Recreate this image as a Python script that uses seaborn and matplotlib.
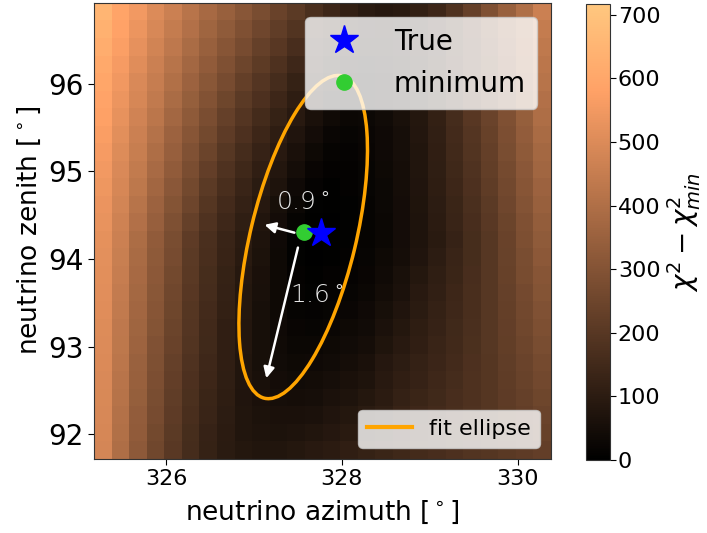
import numpy as np
import pandas as pd
import seaborn as sns
import matplotlib
matplotlib.use('Agg')
import matplotlib.pyplot as plt
from matplotlib.patches import Ellipse
from matplotlib.lines import Line2D

# grid of the scan (cell centres, degrees)
azimuth = [325.28, 325.48, 325.68, 325.88, 326.08, 326.28, 326.48, 326.68, 326.88,
           327.08, 327.28, 327.48, 327.68, 327.88, 328.08, 328.28, 328.48, 328.68,
           328.88, 329.08, 329.28, 329.48, 329.68, 329.88, 330.08, 330.28]
zenith = [96.82, 96.62, 96.42, 96.22, 96.02, 95.82, 95.62, 95.42, 95.22, 95.02,
          94.82, 94.62, 94.42, 94.22, 94.02, 93.82, 93.62, 93.42, 93.22, 93.02,
          92.82, 92.62, 92.42, 92.22, 92.02, 91.82]

# chi2 - chi2_min, one row per zenith (top row first)
delta_chi2 = [
    [650, 590, 550, 500, 460, 420, 380, 345, 310, 275, 240, 210, 170, 140, 115, 97, 87, 95, 115, 140, 180, 230, 290, 345, 400, 460],
    [635, 580, 536, 488, 446, 405, 364, 327, 290, 254, 219, 186, 149, 121, 97, 81, 76, 86, 107, 134, 175, 225, 281, 334, 388, 447],
    [620, 569, 521, 475, 432, 388, 347, 308, 270, 232, 199, 163, 129, 102, 79, 66, 66, 79, 100, 130, 171, 221, 274, 325, 379, 436],
    [605, 559, 507, 462, 417, 371, 329, 290, 249, 211, 178, 141, 110, 83, 62, 52, 57, 72, 93, 125, 167, 217, 266, 315, 369, 425],
    [595, 547, 495, 449, 402, 354, 312, 271, 229, 192, 158, 122, 93, 66, 48, 42, 50, 66, 88, 122, 164, 212, 258, 307, 359, 415],
    [586, 535, 485, 437, 387, 339, 296, 252, 210, 174, 139, 106, 77, 52, 36, 35, 46, 62, 86, 119, 161, 206, 251, 299, 351, 405],
    [577, 524, 473, 424, 371, 323, 279, 232, 192, 156, 121, 90, 60, 37, 26, 29, 41, 57, 82, 116, 157, 200, 243, 290, 341, 395],
    [567, 513, 462, 410, 355, 307, 261, 214, 174, 139, 105, 75, 46, 25, 18, 24, 36, 53, 79, 113, 153, 193, 235, 282, 332, 385],
    [558, 504, 451, 396, 342, 293, 244, 198, 159, 124, 92, 61, 33, 16, 14, 21, 34, 51, 78, 111, 149, 187, 229, 275, 324, 375],
    [549, 495, 441, 382, 328, 278, 226, 182, 144, 110, 79, 48, 22, 9, 11, 19, 31, 50, 76, 108, 144, 181, 223, 267, 315, 365],
    [541, 486, 430, 368, 314, 263, 210, 167, 130, 98, 68, 35, 12, 4, 9, 17, 29, 48, 74, 105, 139, 175, 216, 260, 307, 355],
    [534, 477, 417, 355, 301, 247, 196, 154, 118, 87, 56, 26, 7, 3, 8, 16, 29, 47, 72, 102, 134, 170, 210, 253, 299, 345],
    [527, 468, 404, 343, 288, 231, 182, 142, 108, 78, 45, 16, 3, 2, 8, 15, 28, 46, 70, 99, 130, 165, 204, 246, 291, 335],
    [520, 460, 390, 330, 275, 215, 170, 130, 100, 70, 35, 8, 0, 3, 8, 15, 27, 45, 68, 95, 125, 160, 198, 240, 283, 325],
    [517, 455, 384, 324, 269, 210, 166, 127, 94, 65, 33, 8, 2, 5, 11, 18, 31, 50, 75, 101, 129, 162, 198, 237, 277, 317],
    [514, 450, 379, 318, 263, 205, 162, 121, 89, 61, 31, 10, 4, 9, 14, 22, 37, 58, 83, 107, 133, 164, 198, 234, 272, 308],
    [511, 444, 373, 312, 257, 201, 158, 118, 84, 57, 31, 12, 8, 13, 19, 27, 44, 64, 90, 113, 138, 166, 197, 231, 266, 300],
    [507, 439, 367, 306, 251, 196, 154, 115, 82, 55, 32, 16, 13, 18, 25, 34, 55, 74, 97, 118, 142, 168, 197, 228, 260, 292],
    [504, 434, 362, 300, 245, 191, 150, 112, 81, 54, 34, 20, 19, 25, 32, 41, 63, 82, 104, 124, 146, 170, 197, 225, 255, 283],
    [501, 429, 356, 294, 239, 186, 146, 110, 79, 54, 37, 26, 26, 32, 40, 49, 72, 91, 112, 130, 150, 173, 197, 223, 249, 275],
    [498, 423, 350, 287, 232, 181, 142, 111, 77, 55, 41, 32, 34, 41, 49, 59, 85, 102, 119, 136, 154, 175, 196, 220, 243, 267],
    [495, 418, 345, 281, 226, 176, 138, 108, 76, 58, 46, 40, 43, 51, 59, 69, 90, 110, 126, 142, 158, 177, 196, 217, 238, 258],
    [492, 413, 339, 275, 220, 172, 134, 105, 75, 61, 52, 49, 53, 62, 70, 82, 100, 118, 133, 148, 163, 179, 196, 214, 232, 250],
    [488, 408, 333, 269, 214, 167, 130, 103, 78, 65, 59, 59, 64, 73, 83, 96, 109, 128, 141, 153, 167, 181, 196, 211, 226, 242],
    [485, 402, 328, 263, 208, 162, 126, 100, 78, 70, 67, 70, 76, 86, 95, 107, 118, 136, 148, 159, 171, 183, 195, 208, 221, 233],
    [482, 397, 322, 257, 202, 157, 122, 97, 82, 77, 77, 82, 90, 100, 110, 122, 133, 144, 155, 165, 175, 185, 195, 205, 215, 225],
]

true_dir = (327.76, 94.30)
best_fit = (327.57, 94.31)
ellipse_center = (327.56, 94.25)
ellipse_semi_axes = (1.89, 0.60)   # degrees
ellipse_angle = 76.5               # degrees from azimuth axis
arrow_major = ((327.50, 94.13), (327.14, 92.64))
arrow_minor = ((327.46, 94.30), (327.12, 94.39))
labels_axes = [(327.55, 94.64, '0.9'), (327.71, 93.58, '1.6')]

x_ticks = [326, 328, 330]
y_ticks = [92, 93, 94, 95, 96]
step = 0.2


def to_cell(az, zen):
    """Map (azimuth, zenith) to heatmap cell coordinates."""
    return (az - azimuth[0]) / step + 0.5, (zenith[0] - zen) / step + 0.5


df = pd.DataFrame(delta_chi2, index=zenith, columns=azimuth)

fig = plt.figure(figsize=(7.07, 5.33), dpi=100)
ax = fig.add_axes([0.133, 0.139, 0.6464, 0.8555])
cax = fig.add_axes([0.829, 0.137, 0.034, 0.8555])

sns.heatmap(df, ax=ax, cbar_ax=cax, cmap='copper', vmin=0, vmax=717,
            xticklabels=False, yticklabels=False)

ax.set_xticks([to_cell(v, zenith[0])[0] for v in x_ticks])
ax.set_xticklabels([str(v) for v in x_ticks], fontsize=16)
ax.set_yticks([to_cell(azimuth[0], v)[1] for v in y_ticks])
ax.set_yticklabels([str(v) for v in y_ticks], fontsize=20)
ax.tick_params(length=4, width=0.8)
ax.set_xlabel(r'neutrino azimuth [$^\circ$]', fontsize=19, labelpad=7)
ax.set_ylabel(r'neutrino zenith [$^\circ$]', fontsize=19)
for sp in ax.spines.values():
    sp.set_visible(True)
    sp.set_linewidth(0.8)
    sp.set_color('#333333')

cbar = ax.collections[0].colorbar
cbar.outline.set_linewidth(0.8)
cbar.outline.set_edgecolor('#333333')
cbar.ax.tick_params(labelsize=16, length=4, pad=1.5)
cbar.set_label(r'$\chi^2 - \chi^2_{min}$', fontsize=20, labelpad=3)

# fit ellipse
ell = Ellipse(to_cell(*ellipse_center), width=2 * ellipse_semi_axes[0] / step,
              height=2 * ellipse_semi_axes[1] / step, angle=-ellipse_angle,
              fill=False, edgecolor='orange', lw=2.5, zorder=3)
ax.add_patch(ell)

for start, end in [arrow_major, arrow_minor]:
    ax.annotate('', xy=to_cell(*end), xytext=to_cell(*start),
                arrowprops=dict(arrowstyle='-|>', color='white', lw=1.8,
                                mutation_scale=16, shrinkA=0, shrinkB=0),
                zorder=4)

for x, y, txt in labels_axes:
    cx, cy = to_cell(x, y)
    ax.text(cx, cy, txt + r'$^\circ$', color='#e6e6e6', fontsize=18,
            family='DejaVu Sans', fontweight=200, ha='center', va='center', zorder=5)

dot, = ax.plot(*to_cell(*best_fit), 'o', color='limegreen', markersize=11,
               linestyle='none', label='minimum', zorder=6)
star, = ax.plot(*to_cell(*true_dir), '*', color='blue', markersize=21,
                linestyle='none', label='True', zorder=7)

leg1 = ax.legend(handles=[star, dot], loc='upper right', fontsize=20)
ax.add_artist(leg1)
ax.legend(handles=[Line2D([], [], color='orange', lw=3, label='fit ellipse')],
          loc='lower right', fontsize=16)

fig.savefig('out.png', dpi=100)
